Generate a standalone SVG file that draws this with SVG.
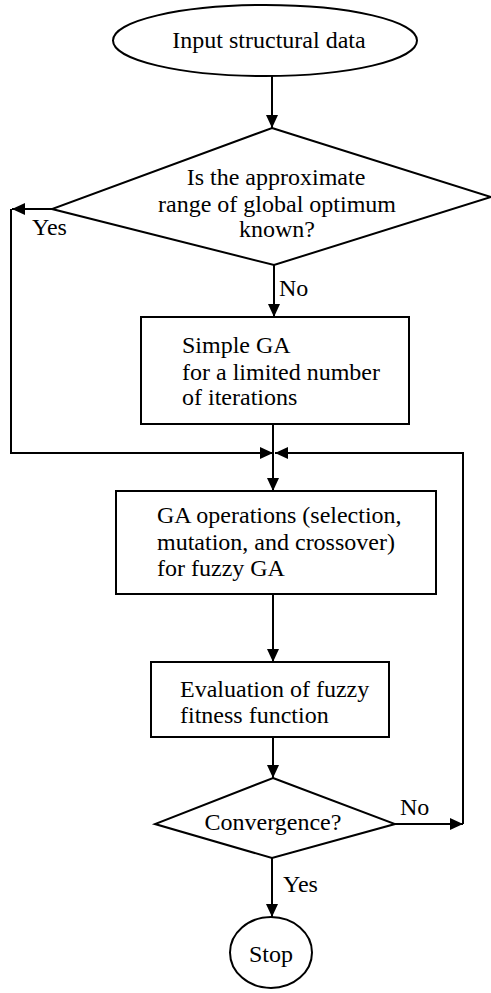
<svg xmlns="http://www.w3.org/2000/svg" width="491" height="993" viewBox="0 0 491 993">
  <style>
    .shape { fill: #fff; stroke: #000; stroke-width: 2; }
    .edge { fill: none; stroke: #000; stroke-width: 2; }
    text { font-family: "Liberation Serif", "Times New Roman", serif; font-size: 24px; fill: #000; }
    .c { text-anchor: middle; }
  </style>
  <defs>
    <marker id="arrow" viewBox="0 0 13 12" refX="13" refY="6" markerWidth="13" markerHeight="12" markerUnits="userSpaceOnUse" orient="auto">
      <path d="M0,0 L13,6 L0,12 z" fill="#000"/>
    </marker>
  </defs>

  <g id="connectors">
    <path class="edge" d="M272,76 V128" marker-end="url(#arrow)"/>
    <path class="edge" d="M52,209 H12" marker-end="url(#arrow)"/>
    <path class="edge" d="M274,265 V317" marker-end="url(#arrow)"/>
    <path class="edge" d="M11,209 V453 H273" marker-end="url(#arrow)"/>
    <path class="edge" d="M273,424 V491" marker-end="url(#arrow)"/>
    <path class="edge" d="M463,824 V453 H275" marker-end="url(#arrow)"/>
    <path class="edge" d="M273,594 V662" marker-end="url(#arrow)"/>
    <path class="edge" d="M273,737 V778" marker-end="url(#arrow)"/>
    <path class="edge" d="M395,824 H463" marker-end="url(#arrow)"/>
    <path class="edge" d="M272,858 V917" marker-end="url(#arrow)"/>
    <text x="32" y="235">Yes</text>
    <text x="279" y="296">No</text>
    <text x="400" y="815">No</text>
    <text x="283" y="892">Yes</text>
  </g>

  <g id="start">
    <ellipse class="shape" cx="265" cy="40.5" rx="152" ry="35.5"/>
    <text class="c" x="269" y="48">Input structural data</text>
  </g>

  <g id="range-known">
    <polygon class="shape" points="272,128 491,197 274,265 52,209"/>
    <text class="c" x="276" y="185">Is the approximate</text>
    <text class="c" x="277" y="212">range of global optimum</text>
    <text class="c" x="277" y="237">known?</text>
  </g>

  <g id="simple-ga">
    <rect class="shape" x="141" y="317" width="268" height="107"/>
    <text x="182" y="353">Simple GA</text>
    <text x="182" y="380">for a limited number</text>
    <text x="182" y="405">of iterations</text>
  </g>

  <g id="ga-operations">
    <rect class="shape" x="116" y="491" width="320" height="103"/>
    <text x="157" y="523">GA operations (selection,</text>
    <text x="157" y="550">mutation, and crossover)</text>
    <text x="157" y="576">for fuzzy GA</text>
  </g>

  <g id="evaluation">
    <rect class="shape" x="151" y="662" width="238" height="75"/>
    <text x="180" y="697">Evaluation of fuzzy</text>
    <text x="180" y="723">fitness function</text>
  </g>

  <g id="convergence">
    <polygon class="shape" points="273,778 395,824 272,858 155,824"/>
    <text class="c" x="273" y="830">Convergence?</text>
  </g>

  <g id="stop">
    <ellipse class="shape" cx="271" cy="952.5" rx="41" ry="35.5"/>
    <text class="c" x="271" y="962">Stop</text>
  </g>
</svg>
